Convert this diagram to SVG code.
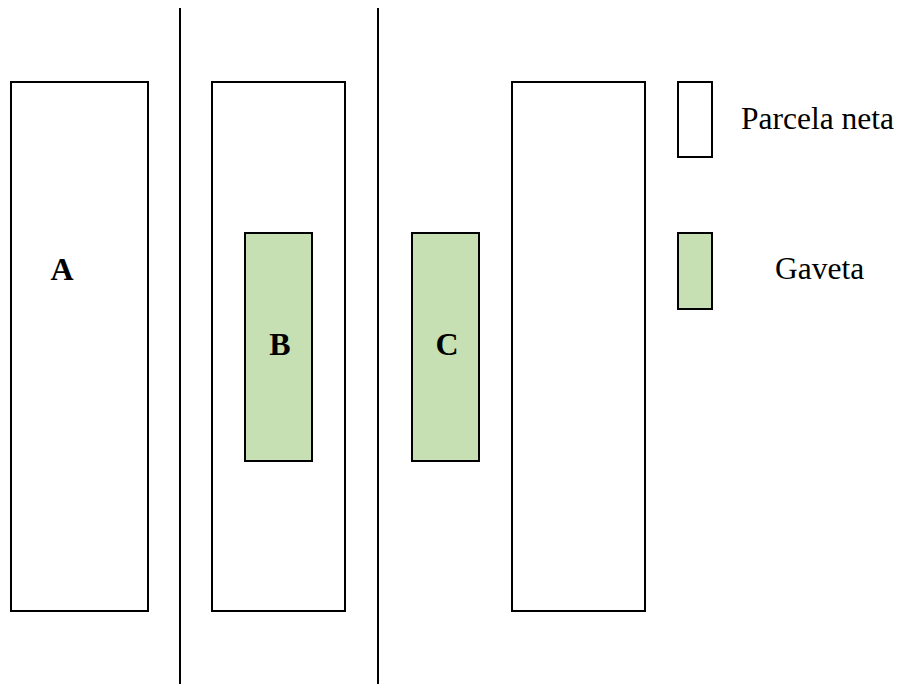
<svg xmlns="http://www.w3.org/2000/svg" width="899" height="684" viewBox="0 0 899 684">
  <style>
    .plot { fill: #ffffff; stroke: #000000; stroke-width: 2; }
    .drawer { fill: #c6e0b4; stroke: #000000; stroke-width: 2; }
    .divider { stroke: #000000; stroke-width: 2; }
    .label { font-family: "Liberation Serif", "Times New Roman", serif; font-size: 32px; font-weight: bold; fill: #000000; text-anchor: middle; }
    .legend { font-family: "Liberation Serif", "Times New Roman", serif; font-size: 31.5px; fill: #000000; }
  </style>
  <rect width="899" height="684" fill="#ffffff"/>

  <!-- dividing lines between plots -->
  <g id="connectors">
    <line class="divider" x1="180" y1="8" x2="180" y2="684"/>
    <line class="divider" x1="378" y1="8" x2="378" y2="684"/>
  </g>

  <g id="plot-a">
    <rect class="plot" x="11" y="82" width="137" height="529"/>
    <text class="label" x="62" y="280">A</text>
  </g>

  <g id="plot-b">
    <rect class="plot" x="212" y="82" width="133" height="529"/>
  </g>

  <g id="drawer-b">
    <rect class="drawer" x="245" y="233" width="67" height="228"/>
    <text class="label" x="280" y="355">B</text>
  </g>

  <g id="drawer-c">
    <rect class="drawer" x="412" y="233" width="67" height="228"/>
    <text class="label" x="447" y="355">C</text>
  </g>

  <g id="plot-c">
    <rect class="plot" x="512" y="82" width="133" height="529"/>
  </g>

  <!-- legend -->
  <g id="legend-plot">
    <rect class="plot" x="678" y="82" width="34" height="75"/>
    <text class="legend" x="741" y="129">Parcela neta</text>
  </g>

  <g id="legend-drawer">
    <rect class="drawer" x="678" y="233" width="34" height="76"/>
    <text class="legend" x="775" y="279">Gaveta</text>
  </g>
</svg>
